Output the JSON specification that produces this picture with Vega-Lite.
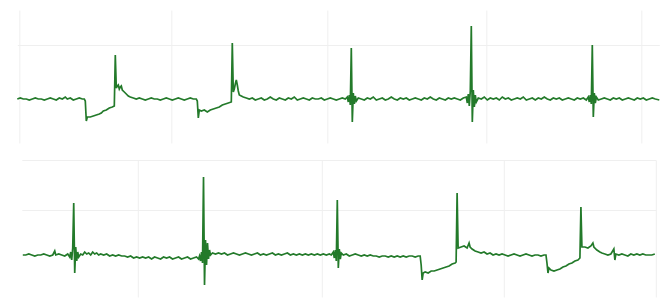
{
  "$schema": "https://vega.github.io/schema/vega-lite/v6.json",
  "padding": {"left": 13, "top": 10, "right": 5, "bottom": 4},
  "spacing": 17,
  "center": true,
  "background": "white",
  "config": {
    "view": {"stroke": null},
    "axis": {"labels": false, "ticks": false, "domain": false, "title": null, "grid": true, "gridColor": "#efefef", "gridWidth": 1}
  },
  "datasets": {
    "top": [
      {"t":0,"v":0},{"t":3,"v":1},{"t":6,"v":0},{"t":9,"v":0},{"t":12,"v":-1},{"t":15,"v":0},{"t":18,"v":1},{"t":21,"v":0},{"t":24,"v":0},{"t":27,"v":-1},{"t":30,"v":0},{"t":33,"v":1},{"t":36,"v":0},{"t":39,"v":-1},{"t":42,"v":1},{"t":45,"v":0},{"t":48,"v":2},{"t":50,"v":0},{"t":53,"v":1},{"t":56,"v":-1},{"t":59,"v":0},{"t":62,"v":1},{"t":65,"v":0},{"t":67,"v":0},
      {"t":68,"v":-2},{"t":69,"v":-22},{"t":70,"v":-18},{"t":73,"v":-18},{"t":76,"v":-17},{"t":79,"v":-16},{"t":82,"v":-15},{"t":84,"v":-14},{"t":86,"v":-12},{"t":89,"v":-11},{"t":92,"v":-9},{"t":95,"v":-8},{"t":97,"v":-7},
      {"t":98,"v":44},{"t":99,"v":11},{"t":100,"v":13},{"t":101,"v":14},{"t":102,"v":10},{"t":103,"v":12},{"t":104,"v":13},{"t":105,"v":9},{"t":107,"v":7},{"t":109,"v":5},{"t":111,"v":3},{"t":113,"v":2},{"t":116,"v":1},{"t":119,"v":0},{"t":122,"v":1},{"t":125,"v":0},{"t":128,"v":-1},{"t":131,"v":0},{"t":134,"v":1},{"t":137,"v":0},{"t":140,"v":0},{"t":143,"v":-1},{"t":146,"v":0},{"t":149,"v":1},{"t":152,"v":0},{"t":155,"v":-1},{"t":158,"v":0},{"t":161,"v":1},{"t":164,"v":0},{"t":167,"v":-1},{"t":170,"v":0},{"t":173,"v":1},{"t":176,"v":0},{"t":179,"v":0},
      {"t":180,"v":-2},{"t":181,"v":-19},{"t":182,"v":-11},{"t":184,"v":-12},{"t":187,"v":-11},{"t":190,"v":-13},{"t":193,"v":-11},{"t":196,"v":-10},{"t":199,"v":-9},{"t":202,"v":-8},{"t":205,"v":-6},{"t":208,"v":-5},{"t":211,"v":-4},{"t":214,"v":-3},
      {"t":215,"v":56},{"t":216,"v":7},{"t":217,"v":10},{"t":218,"v":15},{"t":219,"v":19},{"t":220,"v":14},{"t":221,"v":8},{"t":222,"v":4},{"t":224,"v":3},{"t":226,"v":2},{"t":229,"v":1},{"t":232,"v":0},{"t":235,"v":1},{"t":238,"v":-1},{"t":241,"v":0},{"t":244,"v":1},{"t":247,"v":-1},{"t":250,"v":0},{"t":253,"v":2},{"t":256,"v":0},{"t":259,"v":-1},{"t":262,"v":1},{"t":265,"v":0},{"t":268,"v":-1},{"t":271,"v":1},{"t":274,"v":0},{"t":277,"v":2},{"t":280,"v":-1},{"t":283,"v":0},{"t":286,"v":1},{"t":289,"v":0},{"t":292,"v":-1},{"t":295,"v":1},{"t":298,"v":0},{"t":301,"v":0},{"t":304,"v":1},{"t":307,"v":-1},{"t":310,"v":0},{"t":313,"v":1},{"t":316,"v":0},{"t":319,"v":-1},{"t":322,"v":0},{"t":325,"v":1},{"t":328,"v":0},{"t":330,"v":2},{"t":331,"v":-3},{"t":332,"v":4},{"t":333,"v":-6},
      {"t":334,"v":51},{"t":335,"v":-23},{"t":336,"v":6},{"t":337,"v":-5},{"t":338,"v":3},{"t":339,"v":-2},{"t":341,"v":1},{"t":344,"v":0},{"t":347,"v":-1},{"t":350,"v":1},{"t":353,"v":0},{"t":356,"v":2},{"t":359,"v":-1},{"t":362,"v":0},{"t":365,"v":1},{"t":368,"v":-1},{"t":371,"v":0},{"t":374,"v":2},{"t":377,"v":0},{"t":380,"v":-1},{"t":383,"v":1},{"t":386,"v":0},{"t":389,"v":1},{"t":392,"v":-1},{"t":395,"v":0},{"t":398,"v":1},{"t":401,"v":0},{"t":404,"v":-1},{"t":407,"v":1},{"t":410,"v":0},{"t":413,"v":2},{"t":416,"v":0},{"t":419,"v":-1},{"t":422,"v":1},{"t":425,"v":0},{"t":428,"v":-1},{"t":431,"v":1},{"t":434,"v":0},{"t":437,"v":1},{"t":440,"v":0},{"t":443,"v":-1},{"t":446,"v":1},{"t":449,"v":2},{"t":450,"v":-4},{"t":451,"v":5},{"t":452,"v":-7},{"t":453,"v":8},
      {"t":454,"v":73},{"t":455,"v":-23},{"t":456,"v":9},{"t":457,"v":-8},{"t":458,"v":4},{"t":459,"v":-3},{"t":461,"v":1},{"t":464,"v":0},{"t":467,"v":2},{"t":470,"v":-1},{"t":473,"v":1},{"t":476,"v":0},{"t":479,"v":1},{"t":482,"v":-1},{"t":485,"v":2},{"t":488,"v":0},{"t":491,"v":1},{"t":494,"v":-1},{"t":497,"v":0},{"t":500,"v":1},{"t":503,"v":0},{"t":506,"v":2},{"t":509,"v":-1},{"t":512,"v":0},{"t":515,"v":1},{"t":518,"v":-1},{"t":521,"v":1},{"t":524,"v":0},{"t":527,"v":2},{"t":530,"v":0},{"t":533,"v":-1},{"t":536,"v":1},{"t":539,"v":0},{"t":542,"v":1},{"t":545,"v":-1},{"t":548,"v":0},{"t":551,"v":1},{"t":554,"v":0},{"t":557,"v":-1},{"t":560,"v":1},{"t":563,"v":0},{"t":566,"v":1},{"t":569,"v":-1},{"t":571,"v":2},{"t":572,"v":-3},{"t":573,"v":4},{"t":574,"v":-5},
      {"t":575,"v":54},{"t":576,"v":-18},{"t":577,"v":6},{"t":578,"v":-4},{"t":579,"v":2},{"t":581,"v":-1},{"t":584,"v":0},{"t":587,"v":1},{"t":590,"v":0},{"t":593,"v":-1},{"t":596,"v":1},{"t":599,"v":0},{"t":602,"v":1},{"t":605,"v":-1},{"t":608,"v":0},{"t":611,"v":1},{"t":614,"v":0},{"t":617,"v":-1},{"t":620,"v":1},{"t":623,"v":0},{"t":626,"v":1},{"t":629,"v":-1},{"t":632,"v":0},{"t":635,"v":1},{"t":638,"v":0},{"t":642,"v":-1}
    ],
    "bottom": [
      {"t":1,"v":0},{"t":4,"v":0},{"t":7,"v":1},{"t":10,"v":0},{"t":13,"v":-1},{"t":16,"v":0},{"t":19,"v":0},{"t":22,"v":1},{"t":25,"v":0},{"t":28,"v":-1},{"t":31,"v":0},{"t":33,"v":4},{"t":34,"v":0},{"t":37,"v":1},{"t":40,"v":0},{"t":43,"v":-1},{"t":46,"v":1},{"t":48,"v":-2},{"t":49,"v":3},{"t":50,"v":-5},{"t":51,"v":7},
      {"t":52,"v":52},{"t":53,"v":-18},{"t":54,"v":8},{"t":55,"v":-6},{"t":56,"v":3},{"t":57,"v":-2},{"t":59,"v":1},{"t":61,"v":0},{"t":63,"v":3},{"t":65,"v":1},{"t":67,"v":2},{"t":69,"v":0},{"t":71,"v":3},{"t":73,"v":1},{"t":75,"v":2},{"t":77,"v":0},{"t":79,"v":1},{"t":82,"v":0},{"t":85,"v":1},{"t":88,"v":-1},{"t":91,"v":0},{"t":94,"v":-1},{"t":97,"v":0},{"t":100,"v":-1},{"t":103,"v":-1},{"t":106,"v":-2},{"t":109,"v":-1},{"t":112,"v":-3},{"t":115,"v":-2},{"t":118,"v":-3},{"t":121,"v":-2},{"t":124,"v":-3},{"t":127,"v":-2},{"t":130,"v":-4},{"t":133,"v":-2},{"t":136,"v":-3},{"t":139,"v":-4},{"t":142,"v":-2},{"t":145,"v":-3},{"t":148,"v":-2},{"t":151,"v":-4},{"t":154,"v":-3},{"t":157,"v":-2},{"t":160,"v":-4},{"t":163,"v":-3},{"t":166,"v":-2},{"t":169,"v":-4},{"t":172,"v":-3},{"t":175,"v":-2},{"t":177,"v":-4},{"t":178,"v":-1},{"t":179,"v":-6},{"t":180,"v":3},{"t":181,"v":-8},
      {"t":182,"v":78},{"t":183,"v":-30},{"t":184,"v":15},{"t":185,"v":-10},{"t":186,"v":12},{"t":187,"v":-4},{"t":188,"v":5},{"t":189,"v":0},{"t":191,"v":2},{"t":194,"v":1},{"t":197,"v":2},{"t":200,"v":1},{"t":203,"v":2},{"t":206,"v":0},{"t":209,"v":1},{"t":212,"v":2},{"t":215,"v":1},{"t":218,"v":0},{"t":221,"v":1},{"t":224,"v":2},{"t":227,"v":1},{"t":230,"v":0},{"t":233,"v":1},{"t":236,"v":2},{"t":239,"v":0},{"t":242,"v":1},{"t":245,"v":0},{"t":248,"v":1},{"t":251,"v":2},{"t":254,"v":0},{"t":257,"v":1},{"t":260,"v":0},{"t":263,"v":1},{"t":266,"v":2},{"t":269,"v":0},{"t":272,"v":1},{"t":275,"v":0},{"t":278,"v":1},{"t":281,"v":0},{"t":284,"v":1},{"t":287,"v":0},{"t":290,"v":1},{"t":293,"v":0},{"t":296,"v":1},{"t":299,"v":0},{"t":302,"v":1},{"t":305,"v":0},{"t":308,"v":1},{"t":310,"v":0},{"t":312,"v":3},{"t":313,"v":-3},{"t":314,"v":5},{"t":315,"v":-6},
      {"t":316,"v":55},{"t":317,"v":-13},{"t":318,"v":6},{"t":319,"v":-4},{"t":320,"v":2},{"t":322,"v":0},{"t":325,"v":1},{"t":328,"v":-1},{"t":331,"v":0},{"t":334,"v":1},{"t":337,"v":0},{"t":340,"v":-1},{"t":343,"v":0},{"t":346,"v":-1},{"t":349,"v":0},{"t":352,"v":-1},{"t":355,"v":-1},{"t":358,"v":-2},{"t":361,"v":-1},{"t":364,"v":-1},{"t":367,"v":-2},{"t":370,"v":-1},{"t":373,"v":-2},{"t":376,"v":-1},{"t":379,"v":-2},{"t":382,"v":-1},{"t":385,"v":-2},{"t":388,"v":-1},{"t":391,"v":-1},{"t":394,"v":-2},{"t":397,"v":-1},{"t":399,"v":-1},
      {"t":400,"v":-10},{"t":401,"v":-25},{"t":402,"v":-18},{"t":404,"v":-17},{"t":407,"v":-18},{"t":410,"v":-16},{"t":413,"v":-16},{"t":416,"v":-15},{"t":419,"v":-14},{"t":422,"v":-13},{"t":425,"v":-12},{"t":428,"v":-11},{"t":431,"v":-9},{"t":434,"v":-8},{"t":435,"v":-7},
      {"t":436,"v":62},{"t":437,"v":7},{"t":440,"v":8},{"t":443,"v":9},{"t":446,"v":7},{"t":448,"v":12},{"t":449,"v":8},{"t":451,"v":6},{"t":454,"v":4},{"t":457,"v":3},{"t":460,"v":2},{"t":463,"v":3},{"t":466,"v":1},{"t":469,"v":2},{"t":472,"v":0},{"t":475,"v":1},{"t":478,"v":0},{"t":481,"v":1},{"t":484,"v":0},{"t":487,"v":-1},{"t":490,"v":0},{"t":493,"v":1},{"t":496,"v":0},{"t":499,"v":-1},{"t":502,"v":0},{"t":505,"v":1},{"t":508,"v":0},{"t":511,"v":-1},{"t":514,"v":0},{"t":517,"v":0},{"t":520,"v":-1},{"t":523,"v":0},{"t":525,"v":0},
      {"t":526,"v":-8},{"t":527,"v":-18},{"t":528,"v":-13},{"t":530,"v":-15},{"t":533,"v":-16},{"t":536,"v":-15},{"t":539,"v":-14},{"t":542,"v":-12},{"t":545,"v":-11},{"t":548,"v":-9},{"t":551,"v":-8},{"t":554,"v":-6},{"t":557,"v":-5},{"t":559,"v":-3},
      {"t":560,"v":48},{"t":561,"v":8},{"t":564,"v":8},{"t":567,"v":7},{"t":570,"v":9},{"t":572,"v":12},{"t":573,"v":8},{"t":576,"v":5},{"t":579,"v":3},{"t":581,"v":2},{"t":584,"v":1},{"t":587,"v":0},{"t":590,"v":1},{"t":593,"v":6},{"t":594,"v":-5},{"t":595,"v":1},{"t":598,"v":0},{"t":601,"v":1},{"t":604,"v":0},{"t":607,"v":-1},{"t":610,"v":1},{"t":613,"v":0},{"t":616,"v":1},{"t":619,"v":0},{"t":622,"v":1},{"t":625,"v":0},{"t":628,"v":0},{"t":631,"v":0},{"t":634,"v":1}
    ]
  },
  "vconcat": [
    {
      "width": 642,
      "height": 133,
      "data": {"name": "top"},
      "mark": {"type": "line", "color": "#237a2a", "strokeWidth": 1.7, "interpolate": "linear"},
      "encoding": {
        "x": {"field": "t", "type": "quantitative", "scale": {"domain": [0, 642], "nice": false, "zero": false}, "axis": {"values": [2, 154, 310, 469, 624]}},
        "y": {"field": "v", "type": "quantitative", "scale": {"domain": [-44, 89], "nice": false, "zero": false}, "axis": {"values": [54]}}
      }
    },
    {
      "width": 634,
      "height": 137,
      "data": {"name": "bottom"},
      "mark": {"type": "line", "color": "#237a2a", "strokeWidth": 1.7, "interpolate": "linear"},
      "encoding": {
        "x": {"field": "t", "type": "quantitative", "scale": {"domain": [0, 635], "nice": false, "zero": false}, "axis": {"values": [116, 300, 483, 635]}},
        "y": {"field": "v", "type": "quantitative", "scale": {"domain": [-42, 95], "nice": false, "zero": false}, "axis": {"values": [45, 95]}}
      }
    }
  ]
}
